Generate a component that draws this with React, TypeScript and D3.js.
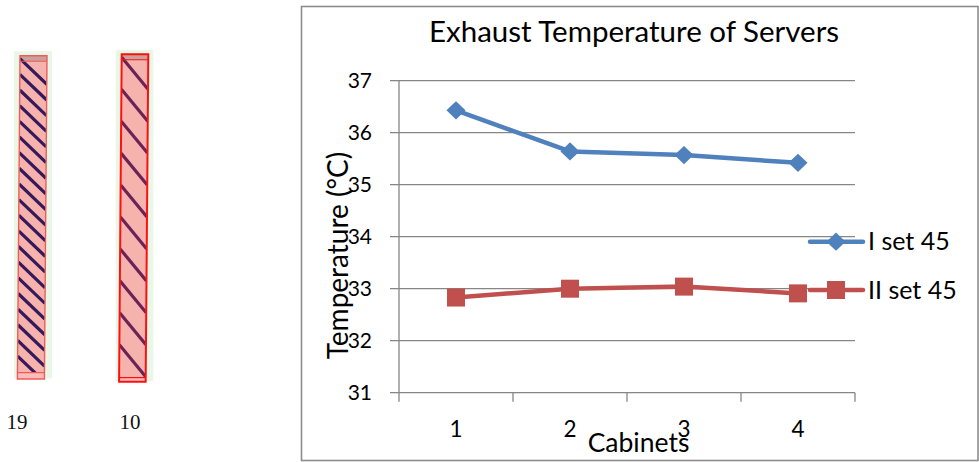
import React from "react";
import * as d3 from "d3";

// ---- Data ----
const categories = ["1", "2", "3", "4"];
const seriesNames = ["I set 45", "II set 45"];
const seriesI = [36.43, 35.64, 35.57, 35.42];
const seriesII = [32.83, 33.0, 33.04, 32.91];
const yTicks = [31, 32, 33, 34, 35, 36, 37];
const rackLabels = ["19", "10"];
const rackHatchCount = [20, 10];

const W = 979;
const H = 462;
const FONT = "Lato, 'Open Sans', sans-serif";

export default function App() {
  // chart scales
  const x = d3.scaleBand<string>().domain(categories).range([399, 855]).padding(0);
  const y = d3.scaleLinear().domain([31, 37]).range([392.7, 80.7]);
  const cx = (c: string) => (x(c) as number) + x.bandwidth() / 2;

  const line = d3
    .line<number>()
    .x((_, i) => cx(categories[i]))
    .y((v) => y(v));

  const colors = ["#4f81bd", "#c0504d"];
  const series = [seriesI, seriesII];

  // rack layout (left panel)
  const rackTop = [55.7, 54.3];
  const rackBottom = [379, 381.7];
  const rackInner = [372.7, 377.7];
  const rackW = [27, 26.6];
  const rackX = [20, 121.7];
  const labelX = [17, 130];
  const hatchColors = ["#35195a", "#6a2356"];
  const rackStroke = ["#f25a5a", "#ff1010"];
  const rackStrokeW = [1.4, 2];
  const hatchSlope = [0.95, 1.2];
  const skew = -0.46;

  const diamond = d3.symbol().type(d3.symbolDiamond).size(150);
  const diamondScale = "scale(1.45,0.8)";

  return (
    <svg
      width={W}
      height={H}
      style={{ position: "absolute", left: 0, top: 0, background: "#fff" }}
      fontFamily={FONT}
    >
      <defs>
        {rackLabels.map((lab, i) => (
          <clipPath id={`rack-clip-${i}`} key={lab}>
            <rect x={0} y={0} width={rackW[i]} height={rackInner[i] - rackTop[i]} />
          </clipPath>
        ))}
      </defs>

      {/* Left panel: racks */}
      {rackLabels.map((lab, i) => {
        const h = rackBottom[i] - rackTop[i];
        const hi = rackInner[i] - rackTop[i];
        const n = rackHatchCount[i];
        const step = (hi - 4) / n;
        const hatch = d3.range(n).map((k) => 3 + k * step);
        const bx = rackX[i];
        return (
          <g key={lab}>
            <rect x={bx - 6} y={rackTop[i] - 4.5} width={rackW[i] + 11} height={h + 4} fill="#eaf7e6" />
            <g transform={`translate(${bx},${rackTop[i]}) skewX(${skew})`}>
              <rect x={0} y={0} width={rackW[i]} height={h} fill="#f6b3ae" />
              <rect x={0} y={0} width={rackW[i]} height={5.5} fill="#c6a29d" />
              <g clipPath={`url(#rack-clip-${i})`}>
                {hatch.map((hy, k) => (
                  <line
                    key={k}
                    x1={0}
                    y1={hy}
                    x2={rackW[i]}
                    y2={hy + rackW[i] * hatchSlope[i]}
                    stroke={hatchColors[i]}
                    strokeWidth={3.2}
                  />
                ))}
              </g>
              <rect x={0} y={hi} width={rackW[i]} height={h - hi} fill="#fbbcbc" />
              <line x1={0} x2={rackW[i]} y1={hi} y2={hi} stroke={rackStroke[i]} strokeWidth={1.2} />
              <line x1={0} x2={rackW[i]} y1={5.5} y2={5.5} stroke={rackStroke[i]} strokeWidth={1} />
              <rect
                x={0}
                y={0}
                width={rackW[i]}
                height={h}
                fill="none"
                stroke={rackStroke[i]}
                strokeWidth={rackStrokeW[i]}
              />
            </g>
            <text
              x={labelX[i]}
              y={429}
              textAnchor="middle"
              fontFamily="'Liberation Serif', 'DejaVu Serif', serif"
              fontSize={21}
              fill="#111"
            >
              {lab}
            </text>
          </g>
        );
      })}

      {/* Chart frame */}
      <rect x={301.5} y={6.5} width={676.5} height={454} fill="#fff" stroke="#8c8c8c" strokeWidth={1.6} />

      {/* Title */}
      <text x={634} y={42} textAnchor="middle" fontSize={29.5} fill="#000">
        Exhaust Temperature of Servers
      </text>

      {/* Gridlines */}
      {yTicks.map((t) => (
        <g key={t}>
          <line x1={390} x2={855} y1={y(t)} y2={y(t)} stroke="#868686" strokeWidth={1.3} />
          <text x={372} y={y(t) + 7} textAnchor="end" fontSize={21} fill="#000">
            {t}
          </text>
        </g>
      ))}

      {/* Axes */}
      <line x1={399} x2={399} y1={y(37)} y2={y(31)} stroke="#868686" strokeWidth={1.3} />
      {[...categories.map((c) => x(c) as number), 855].map((tx, i) => (
        <line key={i} x1={tx} x2={tx} y1={y(31)} y2={y(31) + 9} stroke="#868686" strokeWidth={1.3} />
      ))}
      {categories.map((c) => (
        <text key={c} x={cx(c)} y={437} textAnchor="middle" fontSize={22.5} fill="#000">
          {c}
        </text>
      ))}

      {/* Axis titles */}
      <text x={638.5} y={451.5} textAnchor="middle" fontSize={26.5} fill="#000">
        Cabinets
      </text>
      <text
        transform={`translate(348,255.5) rotate(-90)`}
        textAnchor="middle"
        fontSize={28}
        fill="#000"
      >
        Temperature (°C)
      </text>

      {/* Series */}
      {series.map((s, si) => (
        <g key={si}>
          <path d={line(s) as string} fill="none" stroke={colors[si]} strokeWidth={4.5} strokeLinejoin="round" />
          {s.map((v, i) =>
            si === 0 ? (
              <path
                key={i}
                d={diamond() as string}
                transform={`translate(${cx(categories[i])},${y(v)}) ${diamondScale}`}
                fill={colors[si]}
              />
            ) : (
              <rect
                key={i}
                x={cx(categories[i]) - 9}
                y={y(v) - 9}
                width={18}
                height={18}
                fill={colors[si]}
              />
            )
          )}
        </g>
      ))}

      {/* Legend */}
      {seriesNames.map((name, i) => {
        const ly = [241.7, 290][i];
        return (
          <g key={name}>
            <line x1={810} x2={863} y1={ly} y2={ly} stroke={colors[i]} strokeWidth={4.5} strokeLinecap="round" />
            {i === 0 ? (
              <path d={diamond() as string} transform={`translate(836,${ly}) ${diamondScale}`} fill={colors[i]} />
            ) : (
              <rect x={827} y={ly - 9} width={18} height={18} fill={colors[i]} />
            )}
            <text x={868} y={ly + 8.5} fontSize={25} fill="#000">
              {name}
            </text>
          </g>
        );
      })}
    </svg>
  );
}
